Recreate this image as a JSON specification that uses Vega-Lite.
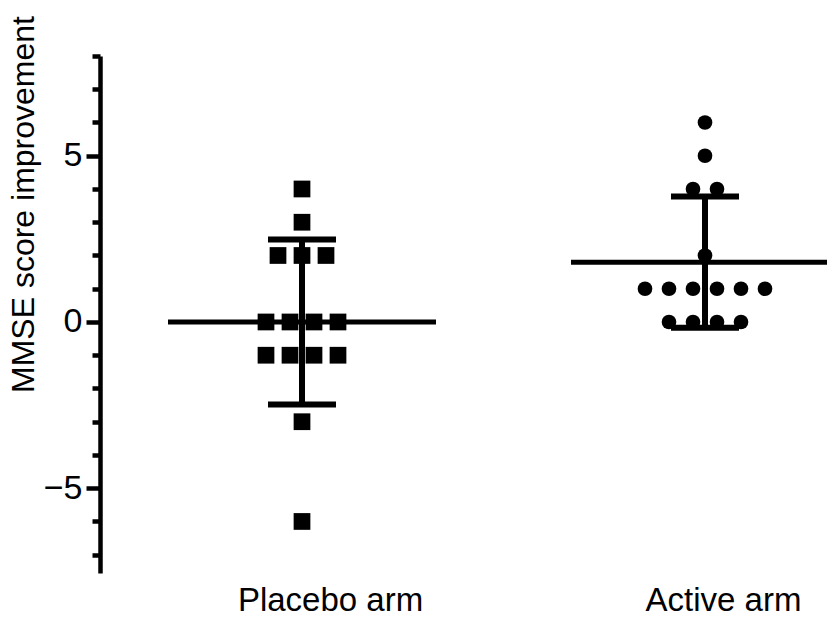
{
  "$schema": "https://vega.github.io/schema/vega-lite/v6.json",
  "width": 727,
  "height": 517,
  "autosize": "none",
  "padding": {"left": 100, "top": 56, "right": 0, "bottom": 48},
  "background": "white",
  "config": {
    "view": {"stroke": null},
    "font": "Liberation Sans"
  },
  "data": {
    "values": [
      {"arm": "Placebo arm", "score": 4},
      {"arm": "Placebo arm", "score": 3},
      {"arm": "Placebo arm", "score": 2},
      {"arm": "Placebo arm", "score": 2},
      {"arm": "Placebo arm", "score": 2},
      {"arm": "Placebo arm", "score": 0},
      {"arm": "Placebo arm", "score": 0},
      {"arm": "Placebo arm", "score": 0},
      {"arm": "Placebo arm", "score": 0},
      {"arm": "Placebo arm", "score": -1},
      {"arm": "Placebo arm", "score": -1},
      {"arm": "Placebo arm", "score": -1},
      {"arm": "Placebo arm", "score": -1},
      {"arm": "Placebo arm", "score": -3},
      {"arm": "Placebo arm", "score": -6},
      {"arm": "Active arm", "score": 6},
      {"arm": "Active arm", "score": 5},
      {"arm": "Active arm", "score": 4},
      {"arm": "Active arm", "score": 4},
      {"arm": "Active arm", "score": 2},
      {"arm": "Active arm", "score": 1},
      {"arm": "Active arm", "score": 1},
      {"arm": "Active arm", "score": 1},
      {"arm": "Active arm", "score": 1},
      {"arm": "Active arm", "score": 1},
      {"arm": "Active arm", "score": 1},
      {"arm": "Active arm", "score": 0},
      {"arm": "Active arm", "score": 0},
      {"arm": "Active arm", "score": 0},
      {"arm": "Active arm", "score": 0}
    ]
  },
  "encoding": {
    "x": {
      "field": "arm",
      "type": "nominal",
      "sort": ["Placebo arm", "Active arm"],
      "scale": {"type": "point", "range": [202, 605], "padding": 0},
      "axis": {
        "title": null,
        "domain": false,
        "ticks": false,
        "labelAngle": 0,
        "labelFontSize": 33,
        "labelColor": "black",
        "labelPadding": 11,
        "labelLimit": 400,
        "labelOffset": {"expr": "datum.value === 'Placebo arm' ? 28 : 18"},
        "labelFont": "Liberation Sans"
      }
    },
    "y": {
      "type": "quantitative",
      "scale": {"domain": [-7.55, 8], "nice": false, "zero": false},
      "axis": {
        "title": "MMSE score improvement",
        "titleFontSize": 32,
        "titleFontWeight": "normal",
        "titleColor": "black",
        "titleFont": "Liberation Sans",
        "titleX": -77,
        "titleY": 148,
        "titleAngle": -90,
        "titleBaseline": "middle",
        "titleAlign": "center",
        "grid": false,
        "values": [-7, -6, -5, -4, -3, -2, -1, 0, 1, 2, 3, 4, 5, 6, 7, 8],
        "labelExpr": "datum.value % 5 === 0 ? (datum.value < 0 ? '\u2212' + abs(datum.value) : '' + datum.value) : ''",
        "labelFontSize": 34,
        "labelColor": "black",
        "labelPadding": 4,
        "labelFont": "Liberation Sans",
        "domainColor": "black",
        "domainWidth": 4.5,
        "tickColor": "black",
        "tickWidth": 4.5,
        "tickSize": {"expr": "datum.value % 5 === 0 ? 14 : 8"}
      }
    }
  },
  "layer": [
    {
      "transform": [
        {"window": [{"op": "row_number", "as": "idx"}], "groupby": ["arm", "score"]},
        {"joinaggregate": [{"op": "count", "as": "n"}], "groupby": ["arm", "score"]},
        {"calculate": "datum.idx - (datum.n + 1) / 2", "as": "off"}
      ],
      "mark": {"type": "point", "filled": true, "opacity": 1, "color": "black", "strokeWidth": 0},
      "encoding": {
        "y": {"field": "score", "type": "quantitative"},
        "xOffset": {"field": "off", "type": "quantitative", "scale": {"domain": [-1, 1], "range": [-24, 24]}},
        "shape": {
          "field": "arm",
          "type": "nominal",
          "scale": {"domain": ["Placebo arm", "Active arm"], "range": ["square", "circle"]},
          "legend": null
        },
        "size": {
          "field": "arm",
          "type": "nominal",
          "scale": {"domain": ["Placebo arm", "Active arm"], "range": [280, 215]},
          "legend": null
        }
      }
    },
    {
      "transform": [
        {"aggregate": [{"op": "mean", "field": "score", "as": "m"}], "groupby": ["arm"]}
      ],
      "mark": {"type": "tick", "orient": "horizontal", "color": "black", "size": 268, "thickness": 5, "opacity": 1},
      "encoding": {
        "y": {"field": "m", "type": "quantitative"}
      }
    },
    {
      "transform": [
        {"aggregate": [{"op": "mean", "field": "score", "as": "m"}, {"op": "stdev", "field": "score", "as": "s"}], "groupby": ["arm"]},
        {"calculate": "datum.m - datum.s", "as": "lo"},
        {"calculate": "datum.m + datum.s", "as": "hi"}
      ],
      "layer": [
        {
          "mark": {"type": "rule", "color": "black", "strokeWidth": 6},
          "encoding": {
            "y": {"field": "lo", "type": "quantitative"},
            "y2": {"field": "hi"}
          }
        },
        {
          "mark": {"type": "tick", "orient": "horizontal", "color": "black", "size": 68, "thickness": 6, "opacity": 1},
          "encoding": {"y": {"field": "lo", "type": "quantitative"}}
        },
        {
          "mark": {"type": "tick", "orient": "horizontal", "color": "black", "size": 68, "thickness": 6, "opacity": 1},
          "encoding": {"y": {"field": "hi", "type": "quantitative"}}
        }
      ]
    }
  ]
}
